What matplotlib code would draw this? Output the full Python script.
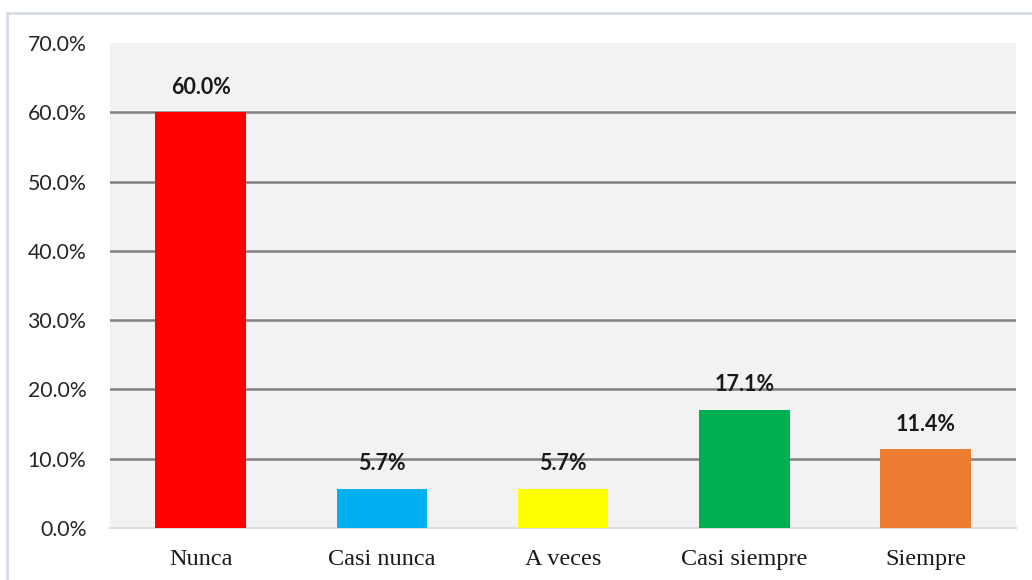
import matplotlib.pyplot as plt
from matplotlib.patches import Rectangle
from matplotlib.ticker import FuncFormatter

categorias = ["Nunca", "Casi nunca", "A veces", "Casi siempre", "Siempre"]
porcentajes = [60.0, 5.7, 5.7, 17.1, 11.4]
colores = ["#ff0000", "#00b0f0", "#ffff00", "#00b050", "#ed7d31"]
y_ticks = [0, 10, 20, 30, 40, 50, 60, 70]

fig = plt.figure(figsize=(10.32, 5.8), dpi=100)
ax = fig.add_axes([110 / 1032, 1 - 528 / 580, 906 / 1032, 485 / 580])
ax.set_facecolor("#f2f2f2")

# marco exterior (recortado a la derecha y abajo)
fig.patches.append(Rectangle((7 / 1032, -0.05), 1.1, 1 - 13 / 580 + 0.05,
                             transform=fig.transFigure, fill=False,
                             edgecolor="#d6dce5", linewidth=2, zorder=0))

x = range(len(categorias))
ax.bar(x, porcentajes, width=0.5, color=colores, zorder=3)

for i, v in enumerate(porcentajes):
    ax.text(i, v + 3.6, "%.1f%%" % v, ha="center", va="center",
            fontsize=15.5, fontweight="bold", family="Lato", color="#1a1a1a", zorder=4)

ax.set_xlim(-0.5, 4.5)
ax.set_ylim(0, 70)
ax.set_yticks(y_ticks)
ax.yaxis.set_major_formatter(FuncFormatter(lambda v, p: "%.1f%%" % v))
for t in y_ticks[1:-1]:
    ax.axhline(t, color="#808080", linewidth=1.8, zorder=2)

ax.set_xticks(list(x))
ax.set_xticklabels(categorias, family="Liberation Serif", fontsize=17.5, color="#1a1a1a")
for lbl in ax.get_yticklabels():
    lbl.set_family("Lato")
    lbl.set_fontsize(15.3)
    lbl.set_color("#262626")

ax.tick_params(axis="y", length=0, pad=17)
ax.tick_params(axis="x", length=0, pad=15)
for s in ["top", "right", "left"]:
    ax.spines[s].set_visible(False)
ax.spines["bottom"].set_color("#d9dde5")
ax.spines["bottom"].set_linewidth(1.5)

fig.savefig("out.png", dpi=100)
